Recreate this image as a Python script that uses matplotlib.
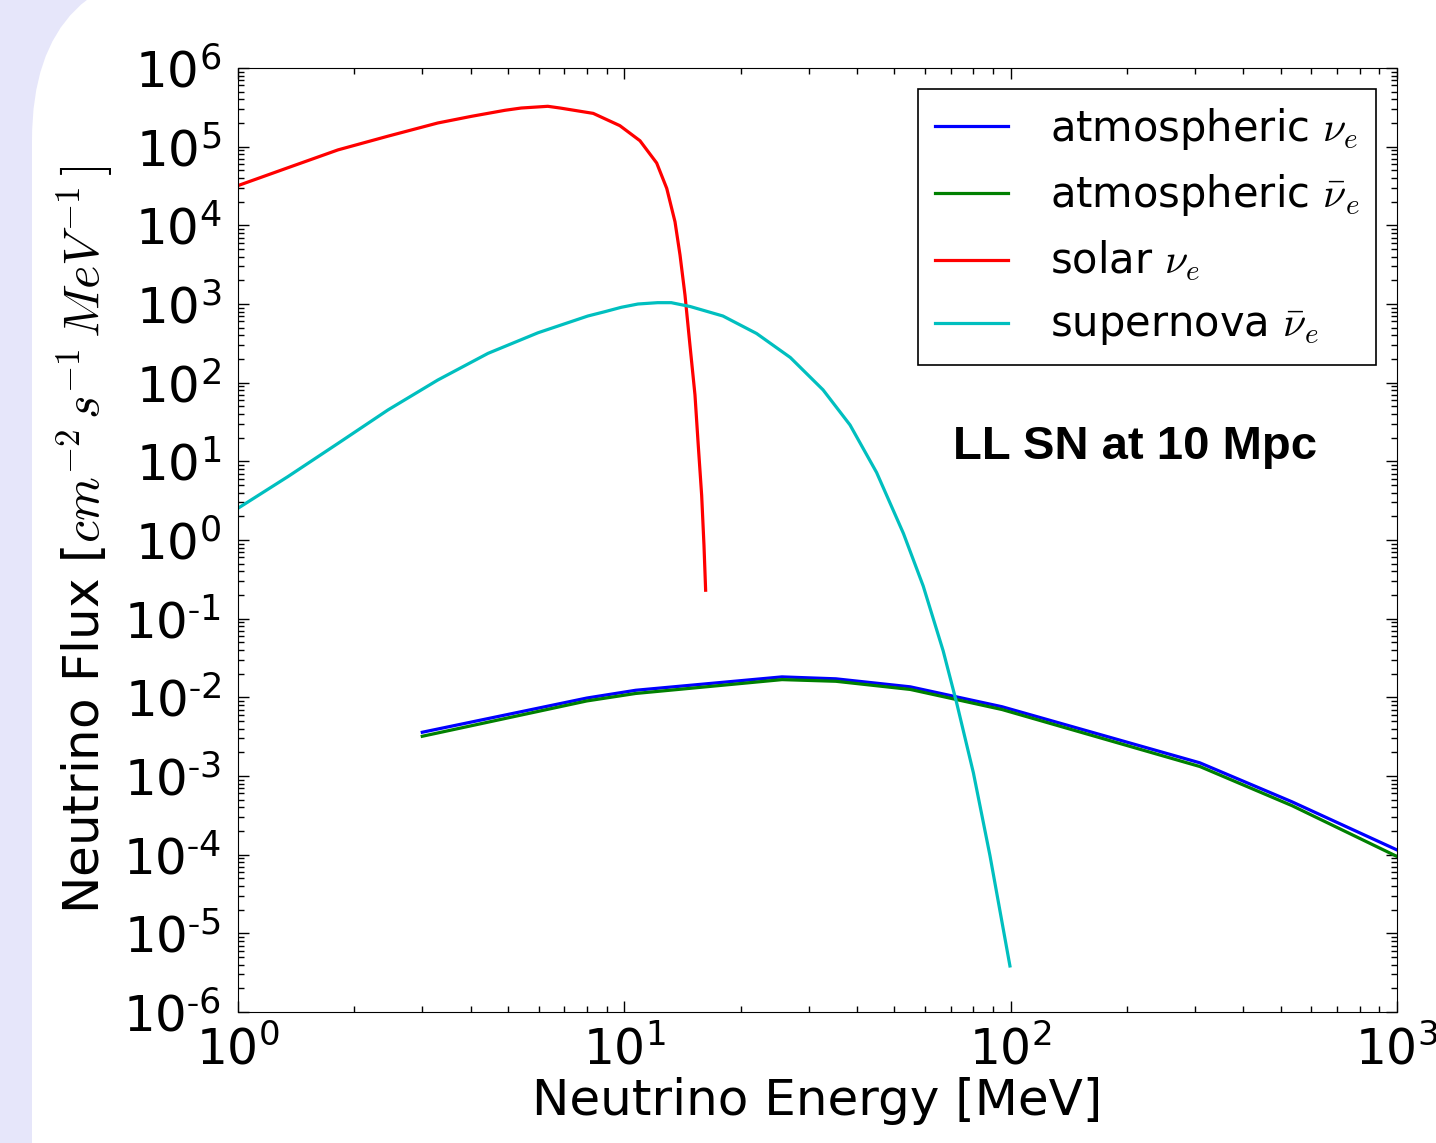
import math

import matplotlib
matplotlib.use("Agg")
import matplotlib.pyplot as plt
from matplotlib.patches import FancyBboxPatch
from matplotlib.ticker import FuncFormatter, LogLocator

# atmospheric flux table (MeV, cm^-2 s^-1 MeV^-1)
atm_E = [3, 8, 10.7, 25.6, 35.3, 55, 95, 309, 535, 1000]
atm_nue = [3.6e-3, 9.8e-3, 1.23e-2, 1.82e-2, 1.72e-2, 1.36e-2, 7.6e-3, 1.47e-3, 4.7e-4, 1.15e-4]
atm_nuebar = [3.2e-3, 9.0e-3, 1.12e-2, 1.68e-2, 1.60e-2, 1.26e-2, 7.0e-3, 1.32e-3, 4.2e-4, 9.5e-5]

# solar nu_e
sol_E = [1.0, 1.347, 1.815, 2.445, 3.29, 4.02, 4.91, 5.41, 6.34, 6.82, 8.31, 9.74,
         10.98, 12.13, 12.88, 13.53, 13.94, 14.36, 14.79, 15.24, 15.54, 15.86, 16.08, 16.24]
sol_flux = [3.2e4, 5.4e4, 9.1e4, 1.36e5, 2.0e5, 2.43e5, 2.9e5, 3.1e5, 3.26e5, 3.1e5, 2.65e5, 1.85e5,
            1.19e5, 6.2e4, 2.95e4, 1.11e4, 4.2e3, 1.3e3, 301, 70, 16.1, 3.7, 0.86, 0.23]

# supernova anti-nu_e, LL model at 10 Mpc
sn_E = [1.0, 1.347, 1.815, 2.445, 3.29, 4.44, 5.98, 8.05, 8.9, 9.82, 10.85, 12.2, 13.23,
        14.8, 18.0, 22.0, 26.9, 32.7, 38.4, 45.0, 52.8, 59.4, 66.9, 72.5, 80.1, 88.4, 99.6]
sn_flux = [2.53, 6.4, 16.9, 45, 108, 236, 431, 704, 798, 908, 1000, 1040, 1040,
           930, 704, 422, 209, 81, 29, 7.2, 1.21, 0.26, 0.039, 8.5e-3, 1.1e-3, 9.8e-5, 3.85e-6]

plt.rcParams["mathtext.fontset"] = "cm"
plt.rcParams["font.family"] = "DejaVu Sans"

fig = plt.figure(figsize=(14.36, 11.43), dpi=100, facecolor="#e6e6fa")
# white slide area with a rounded corner
fig.add_artist(FancyBboxPatch((0.32, -2.0), 16.0, 13.765,
                              boxstyle="round,pad=0,rounding_size=1.735",
                              transform=fig.dpi_scale_trans,
                              facecolor="white", edgecolor="none", zorder=-10))

ax = fig.add_axes([0.1657, 0.1146, 0.8071, 0.8259])
ax.plot(atm_E, atm_nue, color="b", lw=2.3, label=r"atmospheric $\nu_e$")
ax.plot(atm_E, atm_nuebar, color="g", lw=2.3, label=r"atmospheric $\bar{\nu}_e$")
ax.plot(sol_E, sol_flux, color="r", lw=2.3, label=r"solar $\nu_e$")
ax.plot(sn_E, sn_flux, color="c", lw=2.3, label=r"supernova $\bar{\nu}_e$")

ax.set_xscale("log")
ax.set_yscale("log")
ax.set_xlim(1, 1000)
ax.set_ylim(1e-6, 1e6)
ax.yaxis.set_major_locator(LogLocator(base=10, numticks=20))
ax.yaxis.set_minor_locator(LogLocator(base=10, subs=range(2, 10), numticks=20))


def pow10(v, _):
    e = int(round(math.log10(v)))
    s = str(e).replace("-", r"\text{-}")
    return r"$\mathregular{10^{%s}}$" % s


ax.xaxis.set_major_formatter(FuncFormatter(pow10))
ax.yaxis.set_major_formatter(FuncFormatter(pow10))
ax.tick_params(which="both", direction="in", top=True, right=True)
ax.tick_params(which="major", length=8, width=1)
ax.tick_params(which="minor", length=4, width=1)
ax.tick_params(axis="x", pad=10, labelsize=35)
ax.tick_params(axis="y", pad=12, labelsize=36)

ax.set_xlabel("Neutrino Energy [MeV]", fontsize=36, labelpad=2)
ax.set_ylabel(r"Neutrino Flux [$cm^{-2}\,s^{-1}\,MeV^{-1}\,]$", fontsize=36, labelpad=6)

leg = ax.legend(loc="upper right", fontsize=30, fancybox=False, framealpha=1,
                edgecolor="black", handlelength=1.75, handletextpad=1.0,
                borderpad=0.4, labelspacing=0.5, borderaxespad=0.5)
leg.get_frame().set_linewidth(1.2)

ax.text(0.774, 0.5985, "LL SN at 10 Mpc", transform=ax.transAxes, ha="center", va="center",
        fontsize=34, fontweight="bold", family="Liberation Sans")

fig.savefig("out.png", dpi=100, facecolor=fig.get_facecolor())
